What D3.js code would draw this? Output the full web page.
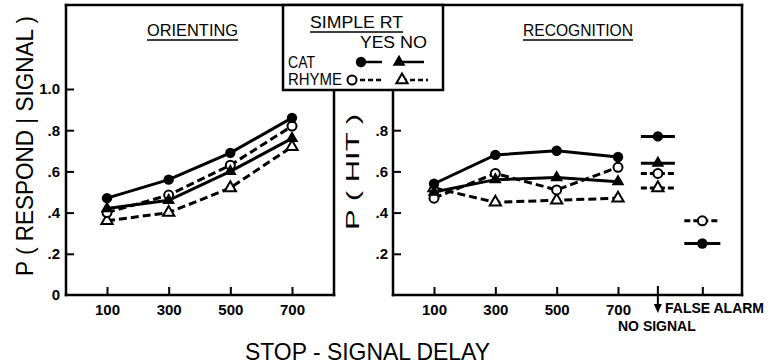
<!DOCTYPE html>
<html><head><meta charset="utf-8">
<script src="https://cdn.jsdelivr.net/npm/d3@7"></script>
<style>
html,body{margin:0;padding:0;background:#fff;}
svg{display:block;font-family:"Liberation Sans",Arial,sans-serif;}
</style></head>
<body><div id="chart"></div>
<script>
// ---------- data ----------
const delays = [100, 300, 500, 700];
const delayLabels = ["100", "300", "500", "700"];
const yTicks = [0, 0.2, 0.4, 0.6, 0.8, 1.0];
const yTickLabels = ["0", ".2", ".4", ".6", ".8", "1.0"];
const yTicksRight = [0.2, 0.4, 0.6, 0.8];
const yTickLabelsRight = [".2", ".4", ".6", ".8"];

// Orienting panel, P(respond | signal)
const orientCatYes   = [0.47, 0.56, 0.69, 0.86];
const orientCatNo    = [0.42, 0.46, 0.60, 0.76];
const orientRhymeYes = [0.40, 0.485, 0.63, 0.82];
const orientRhymeNo  = [0.36, 0.40, 0.52, 0.72];

// Recognition panel, P(hit)
const recogCatYes   = [0.54, 0.68, 0.70, 0.67];
const recogCatNo    = [0.50, 0.56, 0.57, 0.55];
const recogRhymeYes = [0.47, 0.59, 0.51, 0.62];
const recogRhymeNo  = [0.52, 0.45, 0.46, 0.47];
// no-signal hits and false alarms
const noSignal    = {catYes: 0.77, catNo: 0.64, rhymeYes: 0.59, rhymeNo: 0.52};
const falseAlarm  = {rhymeYes: 0.36, catYes: 0.25};
// slot positions (in delay units) for extra categories on the right panel
const extraSlots = {noSignal: 830, falseAlarm: 975};

const seriesDefs = [
  {key: "rhymeNo",  marker: "triangle", filled: false, dashed: true},
  {key: "rhymeYes", marker: "circle",   filled: false, dashed: true},
  {key: "catNo",    marker: "triangle", filled: true,  dashed: false},
  {key: "catYes",   marker: "circle",   filled: true,  dashed: false}
];
const orientData = {catYes: orientCatYes, catNo: orientCatNo, rhymeYes: orientRhymeYes, rhymeNo: orientRhymeNo};
const recogData  = {catYes: recogCatYes, catNo: recogCatNo, rhymeYes: recogRhymeYes, rhymeNo: recogRhymeNo};

// ---------- layout ----------
const W = 771, H = 364;
const svg = d3.select("#chart").append("svg").attr("width", W).attr("height", H);

const frame = {left: 66, top: 5, right: 742, bottom: 295, divider: 334, rightAxis: 393};
const legendBox = {x0: 283, x1: 443, y1: 90};

const y = d3.scaleLinear().domain([0, 1]).range([frame.bottom, 89]);
const xL = d3.scaleLinear().domain([100, 700]).range([107, 292]);
const xR = d3.scaleLinear().domain([100, 700]).range([434, 618]);

const LW = 3, DASH = "8,4";

// frame
const fr = svg.append("g").attr("stroke", "#000").attr("stroke-width", 2.5).attr("fill", "none").attr("stroke-linecap", "square");
fr.append("line").attr("x1", frame.left).attr("x2", frame.right).attr("y1", frame.top).attr("y2", frame.top);
fr.append("line").attr("x1", frame.left).attr("x2", frame.left).attr("y1", frame.top).attr("y2", frame.bottom);
fr.append("line").attr("x1", frame.right).attr("x2", frame.right).attr("y1", frame.top).attr("y2", frame.bottom);
fr.append("line").attr("x1", frame.left).attr("x2", frame.divider).attr("y1", frame.bottom).attr("y2", frame.bottom);
fr.append("line").attr("x1", frame.rightAxis).attr("x2", frame.right).attr("y1", frame.bottom).attr("y2", frame.bottom);
fr.append("line").attr("x1", frame.divider).attr("x2", frame.divider).attr("y1", legendBox.y1).attr("y2", frame.bottom);
fr.append("line").attr("x1", frame.rightAxis).attr("x2", frame.rightAxis).attr("y1", legendBox.y1).attr("y2", frame.bottom);
fr.append("rect").attr("x", legendBox.x0).attr("y", frame.top).attr("width", legendBox.x1 - legendBox.x0).attr("height", legendBox.y1 - frame.top).attr("fill", "#fff");

// axes
function styleAxis(g, size) {
  g.select(".domain").remove();
  g.selectAll(".tick line").attr("stroke", "#000").attr("stroke-width", 2);
  g.selectAll(".tick text").attr("font-size", size).attr("font-weight", "bold").attr("fill", "#000")
    .attr("font-family", "Liberation Sans, Arial, sans-serif");
}
const yAxL = d3.axisLeft(y).tickValues(yTicks).tickSizeInner(-8).tickSizeOuter(0).tickPadding(6)
  .tickFormat((d, i) => yTickLabels[i]);
svg.append("g").attr("transform", `translate(${frame.left},0)`).call(yAxL).call(g => styleAxis(g, 15))
  .call(g => g.selectAll(".tick").filter(d => d === 0).select("line").remove());

const yAxR = d3.axisLeft(y).tickValues(yTicksRight).tickSizeInner(-8).tickSizeOuter(0).tickPadding(5)
  .tickFormat((d, i) => yTickLabelsRight[i]);
svg.append("g").attr("transform", `translate(${frame.rightAxis},0)`).call(yAxR).call(g => styleAxis(g, 15));

const xAxL = d3.axisBottom(xL).tickValues(delays).tickSizeInner(-8).tickSizeOuter(0).tickPadding(9)
  .tickFormat((d, i) => delayLabels[i]);
svg.append("g").attr("transform", `translate(0,${frame.bottom})`).call(xAxL).call(g => styleAxis(g, 15));

const xAxR = d3.axisBottom(xR).tickValues(delays.concat([extraSlots.falseAlarm])).tickSizeInner(-8).tickSizeOuter(0).tickPadding(9)
  .tickFormat((d, i) => i < delayLabels.length ? delayLabels[i] : "");
svg.append("g").attr("transform", `translate(0,${frame.bottom})`).call(xAxR).call(g => styleAxis(g, 15));

// no-signal arrow tick
const nsX = xR(extraSlots.noSignal);
svg.append("line").attr("x1", nsX).attr("x2", nsX).attr("y1", frame.bottom - 9).attr("y2", frame.bottom + 14)
  .attr("stroke", "#000").attr("stroke-width", 2);
svg.append("path").attr("d", `M${nsX - 4},${frame.bottom + 9} L${nsX + 4},${frame.bottom + 9} L${nsX},${frame.bottom + 18} Z`).attr("fill", "#000");
svg.append("text").attr("x", 665).attr("y", 313).attr("font-size", 14).attr("font-weight", "bold").text("FALSE  ALARM");
svg.append("text").attr("x", 618).attr("y", 331).attr("font-size", 14).attr("font-weight", "bold").text("NO SIGNAL");

// markers
function drawMarker(g, cx, cy, def) {
  if (def.marker === "circle") {
    g.append("circle").attr("cx", cx).attr("cy", cy).attr("r", def.filled ? 5.2 : 4.5)
      .attr("fill", def.filled ? "#000" : "#fff").attr("stroke", "#000").attr("stroke-width", def.filled ? 0 : 2);
  } else {
    g.append("path").attr("d", d3.symbol(d3.symbolTriangle, def.filled ? 70 : 55)())
      .attr("transform", `translate(${cx},${cy})`)
      .attr("fill", def.filled ? "#000" : "#fff").attr("stroke", "#000").attr("stroke-width", def.filled ? 0 : 2)
      .attr("stroke-linejoin", "miter");
  }
}

function drawPanel(xs, data) {
  const g = svg.append("g");
  const line = d3.line().x((d, i) => xs(delays[i])).y(d => y(d));
  seriesDefs.forEach(def => {
    g.append("path").datum(data[def.key]).attr("d", line).attr("fill", "none").attr("stroke", "#000")
      .attr("stroke-width", LW).attr("stroke-dasharray", def.dashed ? DASH : null);
  });
  seriesDefs.forEach(def => {
    data[def.key].forEach((v, i) => drawMarker(g, xs(delays[i]), y(v), def));
  });
}
drawPanel(xL, orientData);
drawPanel(xR, recogData);

// no-signal and false-alarm points with horizontal bars
function drawBarPoint(slot, key, halfW) {
  const def = seriesDefs.find(s => s.key === key);
  const cx = xR(slot);
  const v = slot === extraSlots.noSignal ? noSignal[key] : falseAlarm[key];
  svg.append("line").attr("x1", cx - halfW).attr("x2", cx + halfW).attr("y1", y(v)).attr("y2", y(v))
    .attr("stroke", "#000").attr("stroke-width", LW).attr("stroke-dasharray", def.dashed ? "6,3" : null);
  drawMarker(svg, cx, y(v), def);
}
["rhymeNo", "rhymeYes", "catNo", "catYes"].forEach(k => drawBarPoint(extraSlots.noSignal, k, 17));
["rhymeYes", "catYes"].forEach(k => drawBarPoint(extraSlots.falseAlarm, k, 18));

// titles
function title(txt, x0, x1, yb, size) {
  svg.append("text").attr("x", x0).attr("y", yb).attr("font-size", size)
    .attr("textLength", x1 - x0).attr("lengthAdjust", "spacingAndGlyphs").text(txt);
  svg.append("line").attr("x1", x0).attr("x2", x1).attr("y1", yb + 4).attr("y2", yb + 4).attr("stroke", "#000").attr("stroke-width", 1.5);
}
title("ORIENTING", 147, 238, 36, 16);
title("RECOGNITION", 523, 633, 36, 16);
title("SIMPLE RT", 310, 403, 28, 17);

// legend
function legText(txt, x, yb, len) {
  svg.append("text").attr("x", x).attr("y", yb).attr("font-size", 16)
    .attr("textLength", len).attr("lengthAdjust", "spacingAndGlyphs").text(txt);
}
legText("YES", 360, 48, 35);
legText("NO", 400, 48, 27);
legText("CAT", 288, 68, 27);
legText("RHYME", 288, 85, 54);
const legRows = [
  {key: "catYes", x: 361, x2: 382, y: 62}, {key: "catNo", x: 399, x2: 424, y: 62},
  {key: "rhymeYes", x: 352, x2: 382, y: 80}, {key: "rhymeNo", x: 402, x2: 428, y: 80}
];
legRows.forEach(r => {
  const def = seriesDefs.find(s => s.key === r.key);
  svg.append("line").attr("x1", r.x).attr("x2", r.x2).attr("y1", r.y).attr("y2", r.y).attr("stroke", "#000")
    .attr("stroke-width", 2.5).attr("stroke-dasharray", def.dashed ? "5,3" : null);
  drawMarker(svg, r.x, r.y, def);
});

// axis titles (start-anchored so the fitted length is exact)
svg.append("text").attr("transform", "translate(33,276) rotate(-90)")
  .attr("font-size", 24).attr("textLength", 260).attr("lengthAdjust", "spacingAndGlyphs").text("P ( RESPOND | SIGNAL )");
svg.append("text").attr("transform", "translate(359,230) rotate(-90)")
  .attr("font-size", 19).attr("textLength", 116).attr("lengthAdjust", "spacingAndGlyphs").text("P ( HIT )");
svg.append("text").attr("x", 245).attr("y", 360)
  .attr("font-size", 24).attr("textLength", 245).attr("lengthAdjust", "spacingAndGlyphs").text("STOP - SIGNAL DELAY");
</script></body></html>
